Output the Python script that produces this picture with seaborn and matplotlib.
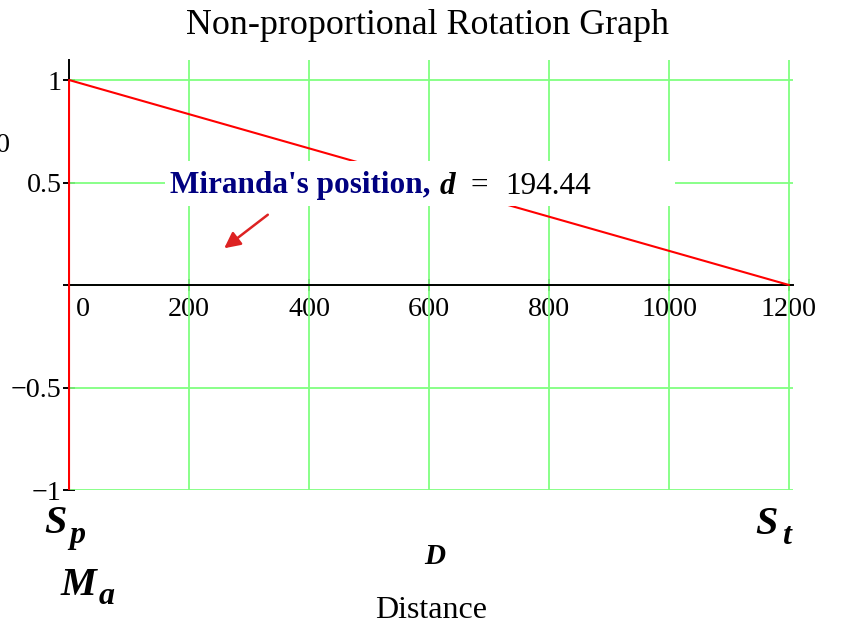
import pandas as pd
import seaborn as sns
import matplotlib.pyplot as plt
from matplotlib.patches import Rectangle
from matplotlib.transforms import ScaledTranslation

# trace data (distance vs rotation)
distance = [0, 0, 1200]
rotation = [-1, 1, 0]
x_ticks = [0, 200, 400, 600, 800, 1000, 1200]
x_tick_labels = ["0", "200", "400", "600", "800", "1000", "1200"]
y_ticks = [-1, -0.5, 0, 0.5, 1]
y_tick_labels = ["\u22121", "\u22120.5", "", "0.5", "1"]
miranda_d = 194.44

sns.set_theme(style="white")
plt.rcParams['font.family'] = ['Liberation Serif', 'DejaVu Serif']

W, H = 841, 627
fig = plt.figure(figsize=(W / 100, H / 100), dpi=100)
ax = fig.add_axes([68 / W, (H - 490) / H, (793 - 68) / W, (490 - 60) / H])

df = pd.DataFrame({"Distance": distance, "Rotation": rotation})
sns.lineplot(data=df, x="Distance", y="Rotation", sort=False, estimator=None,
             color="#FF0000", linewidth=1.5, ax=ax, zorder=4)

ax.set_xlim(-1.7, 1206.7)
ax.set_ylim(-1, 1.0976)

# green grid
for xv in x_ticks[1:]:
    ax.axvline(xv, color="#80FF80", linewidth=1.3, zorder=1)
for yv in y_ticks:
    ax.axhline(yv, color="#80FF80", linewidth=1.3, zorder=1)

for s in ["top", "right"]:
    ax.spines[s].set_visible(False)
ax.spines["left"].set_position(("data", 0))
ax.spines["bottom"].set_position(("data", 0))
for s in ["left", "bottom"]:
    ax.spines[s].set_color("black")
    ax.spines[s].set_linewidth(1.4)
    ax.spines[s].set_zorder(3)

ax.set_xticks(x_ticks)
ax.set_xticklabels(x_tick_labels)
ax.set_yticks(y_ticks)
ax.set_yticklabels(y_tick_labels)
ax.tick_params(axis="both", bottom=True, left=True, direction="inout", length=9,
               width=1.4, color="black", labelsize=20.2, labelcolor="black")
ax.tick_params(axis="x", pad=4)
ax.tick_params(axis="y", pad=1)
ax.set_xlabel("")
ax.set_ylabel("")
# shift the "0" tick label right like the reference
lbl0 = ax.get_xticklabels()[0]
lbl0.set_transform(lbl0.get_transform() + ScaledTranslation(14 / 100, 0, fig.dpi_scale_trans))

# white box behind the annotation
ax.add_patch(Rectangle((165 / W, (H - 206) / H), (675 - 165) / W, (206 - 161) / H,
                       transform=fig.transFigure, facecolor="white", edgecolor="none", zorder=5))
ann_y = (H - 186) / H
fig.text(170 / W, ann_y, "Miranda's position,", color="#000080", fontsize=22.5,
         fontweight="bold", ha="left", va="center", zorder=6)
fig.text(440 / W, ann_y, "d", color="black", fontsize=22.5, fontweight="bold",
         fontstyle="italic", ha="left", va="center", zorder=6)
fig.text(470 / W, ann_y, "=", color="black", fontsize=22.5, ha="left", va="center", zorder=6)
fig.text(505 / W, ann_y, f"{miranda_d:.2f}", color="black", fontsize=22.5,
         ha="left", va="center", zorder=6)

ax.annotate("", xy=(255, 0.171), xytext=(335, 0.351),
            arrowprops=dict(arrowstyle="-|>", color="#DD2222", lw=1.8, mutation_scale=24),
            zorder=6)

# titles / labels
fig.text(427 / W, (H - 25) / H, "Non-proportional Rotation Graph", fontsize=25.8,
         ha="center", va="center", color="black")
fig.text(3 / W, (H - 145) / H, "0", fontsize=20.2, ha="center", va="center", color="black")

sym_kw = dict(fontweight="bold", fontstyle="italic", color="black", va="baseline", ha="left")
fig.text(44 / W, (H - 533) / H, "S", fontsize=29, **sym_kw)
fig.text(69 / W, (H - 543) / H, "p", fontsize=23, **sym_kw)
fig.text(61 / W, (H - 595) / H, "M", fontsize=29, **sym_kw)
fig.text(99 / W, (H - 604) / H, "a", fontsize=23, **sym_kw)
fig.text(755 / W, (H - 534) / H, "S", fontsize=29, **sym_kw)
fig.text(782 / W, (H - 544) / H, "t", fontsize=23, **sym_kw)
fig.text(435 / W, (H - 557) / H, "D", fontsize=21, fontweight="bold", fontstyle="italic",
         ha="center", va="center", color="black")
fig.text(431 / W, (H - 611) / H, "Distance", fontsize=23, ha="center", va="center", color="black")

fig.savefig("out.png", dpi=100)
